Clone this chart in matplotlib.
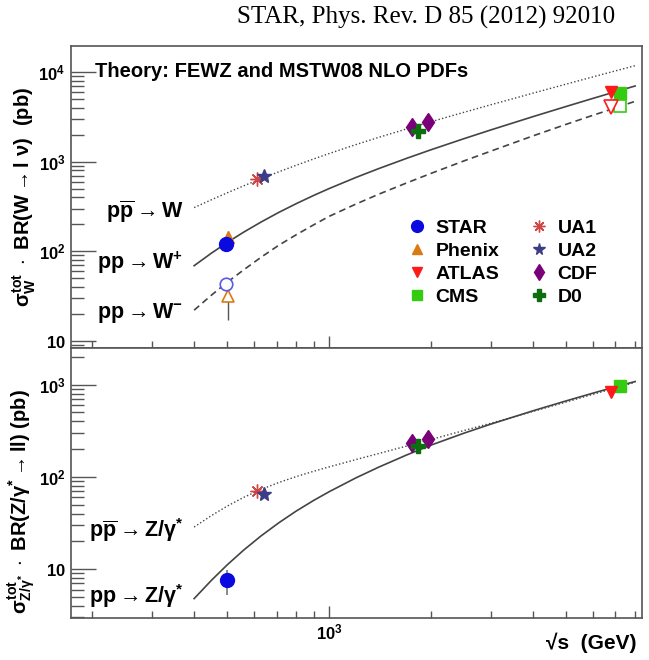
import numpy as np
import matplotlib
matplotlib.use("Agg")
import matplotlib.pyplot as plt
from matplotlib.ticker import FixedLocator, NullFormatter, FixedFormatter

plt.rcParams['font.family'] = ['Liberation Sans', 'DejaVu Sans']
plt.rcParams['mathtext.fontset'] = 'custom'
plt.rcParams['mathtext.rm'] = 'Liberation Sans:bold'
plt.rcParams['mathtext.bf'] = 'Liberation Sans:bold'
plt.rcParams['mathtext.it'] = 'Liberation Sans:bold'
plt.rcParams['mathtext.sf'] = 'Liberation Sans:bold'

# Theory curves, sqrt(s) in GeV, cross sections in pb
sqrt_s_theory = [400, 450, 500, 560, 630, 710, 800, 900, 1000, 1200, 1400, 1700,
                 2000, 2500, 3000, 4000, 5000, 6000, 7000, 8000]
w_ppbar = [307.6, 376.6, 448.6, 537.9, 644.7, 769.6, 911.9, 1071, 1231, 1550, 1865, 2330,
           2791, 3552, 4310, 5814, 7316, 8812, 10297, 11770]
w_plus = [69.2, 95.6, 125.1, 163.8, 212.2, 271.3, 340.2, 419.6, 500.9, 666.8, 836.1, 1095,
          1359, 1805, 2259, 3183, 4122, 5075, 6031, 6985]
w_minus = [22.1, 32.5, 45.0, 62.2, 85.9, 116.7, 153.1, 197.2, 245.4, 336.7, 433.1, 582.5,
           740.7, 1020, 1310, 1942, 2605, 3289, 3980, 4715]
z_ppbar = [28.6, 38.1, 48.1, 60.0, 73.2, 86.8, 100.8, 115.0, 128.4, 154.1, 179.2, 216.8,
           254.7, 318.4, 382.1, 513.8, 648.1, 785.1, 922.9, 1062]
z_pp = [4.79, 7.57, 11.07, 16.09, 22.9, 31.7, 42.6, 55.5, 69.0, 97.6, 127.4, 173.9,
        221.4, 298.0, 373.6, 521.7, 666.8, 809.1, 948.2, 1083]

# Measurements: W panel
star_w_x = [495]
star_wp = [120]
star_wm = [43.3]
phenix_w_x = [505]
phenix_wp = [144]
phenix_wp_err = [25]
phenix_wm = [31.4]
phenix_wm_err_lo = [14.4]
phenix_wm_err_hi = [10]
atlas_w_x = [6780]
atlas_wp = [6025]
atlas_wm = [4036]
cms_w_x = [7210]
cms_wp = [5780]
cms_wm = [4168]
ua1_x = [615]
ua1_w = [637]
ua2_x = [645]
ua2_w = [689]
cdf_x = [1760, 1960]
cdf_w = [2430, 2760]
d0_x = [1830]
d0_w = [2190]

# Measurements: Z panel
star_z_x = [500]
star_z = [7.6]
star_z_err_lo = [2.3]
star_z_err_hi = [2.3]
ua1_z = [71]
ua2_z = [65.5]
cdf_z = [231, 256]
d0_z = [218]
atlas_z_x = [6780]
atlas_z = [836]
cms_z_x = [7210]
cms_z = [970]

# curve labels
label_x = 372
w_labels = [r'$\mathrm{p\overline{p}\rightarrow W}$', r'$\mathrm{pp\rightarrow W^{+}}$',
            r'$\mathrm{pp\rightarrow W^{-}}$']
w_label_y = [273, 75, 20.3]
z_labels = [r'$\mathrm{p\overline{p}\rightarrow Z/\gamma^{*}}$', r'$\mathrm{pp\rightarrow Z/\gamma^{*}}$']
z_label_y = [26.7, 5.05]

c_star = '#0a0ae0'
c_phenix = '#d97a14'
c_atlas = '#ff1a1a'
c_cms = '#33cc11'
c_ua1 = '#d04545'
c_ua2 = '#3d3d85'
c_cdf = '#7a007a'
c_d0 = '#0d6e0d'
c_th = '#444444'
frame = '#555555'

fig = plt.figure(figsize=(6.49, 6.60), dpi=100)
ax1 = fig.add_axes([0.1094, 0.4727, 0.8798, 0.4576])
ax2 = fig.add_axes([0.1094, 0.0636, 0.8798, 0.4091])

xlo, xhi = 173.3, 8381

for ax in (ax1, ax2):
    ax.set_xscale('log')
    ax.set_yscale('log')
    ax.set_xlim(xlo, xhi)
    for s in ax.spines.values():
        s.set_color(frame)
        s.set_linewidth(1.2)
    ax.xaxis.set_major_locator(FixedLocator([1000]))
    ax.xaxis.set_minor_locator(FixedLocator([200, 300, 400, 500, 600, 700, 800, 900,
                                             2000, 3000, 4000, 5000, 6000, 7000, 8000]))
    ax.xaxis.set_minor_formatter(NullFormatter())
    ax.tick_params(axis='x', which='major', direction='in', length=9, width=1, color=frame,
                   top=False, pad=3)
    ax.tick_params(axis='x', which='minor', direction='in', length=5, width=1, color=frame, top=False)
    ax.tick_params(axis='y', which='major', direction='in', length=18, width=1, color=frame,
                   right=False, labelsize=12, pad=4)
    ax.tick_params(axis='y', which='minor', direction='in', length=9, width=1, color=frame, right=False)

ax1.set_ylim(8.36, 19500)
ax2.set_ylim(2.95, 2500)
ax1.yaxis.set_major_locator(FixedLocator([10, 100, 1000, 10000]))
ax1.yaxis.set_major_formatter(FixedFormatter([r'$\mathbf{10}$', r'$\mathbf{10^{2}}$',
                                              r'$\mathbf{10^{3}}$', r'$\mathbf{10^{4}}$']))
ax2.yaxis.set_major_locator(FixedLocator([10, 100, 1000]))
ax2.yaxis.set_major_formatter(FixedFormatter([r'$\mathbf{10}$', r'$\mathbf{10^{2}}$',
                                              r'$\mathbf{10^{3}}$']))
minors = [k * 10 ** e for e in range(0, 5) for k in range(2, 10)]
ax1.yaxis.set_minor_locator(FixedLocator(minors))
ax2.yaxis.set_minor_locator(FixedLocator(minors))
ax1.yaxis.set_minor_formatter(NullFormatter())
ax2.yaxis.set_minor_formatter(NullFormatter())
ax1.set_xticklabels([])
ax2.xaxis.set_major_formatter(FixedFormatter([r'$\mathbf{10^{3}}$']))
ax2.tick_params(axis='x', labelsize=12)

# theory curves
dot = (0, (1, 1.6))
dash = (0, (4, 2.6))
ax1.plot(sqrt_s_theory, w_ppbar, ls=dot, color=c_th, lw=1.0)
ax1.plot(sqrt_s_theory, w_plus, ls='-', color=c_th, lw=1.2)
ax1.plot(sqrt_s_theory, w_minus, ls=dash, color=c_th, lw=1.2)
ax2.plot(sqrt_s_theory, z_ppbar, ls=dot, color=c_th, lw=1.0)
ax2.plot(sqrt_s_theory, z_pp, ls='-', color=c_th, lw=1.2)

ms = 9
# W data
ax1.errorbar(phenix_w_x, phenix_wm, yerr=[phenix_wm_err_lo, phenix_wm_err_hi], fmt='^', ms=ms,
             mfc='white', mec=c_phenix, mew=1.2, ecolor='#555555', elinewidth=1, zorder=3)
ax1.plot(star_w_x, star_wm, 'o', ms=ms, mfc='white', mec='#5a5ae6', mew=1.2, zorder=4)
ax1.errorbar(phenix_w_x, phenix_wp, yerr=phenix_wp_err, fmt='none',
             ecolor='#555555', elinewidth=1, zorder=2)
ax1.plot(phenix_w_x, phenix_wp, '^', ms=ms, color=c_phenix, label='Phenix', zorder=3)
ax1.plot(star_w_x, star_wp, 'o', ms=ms + 1, color=c_star, label='STAR', zorder=4)
ax1.plot(atlas_w_x, atlas_wp, 'v', ms=ms, color=c_atlas, label='ATLAS', zorder=4)
ax1.plot(atlas_w_x, atlas_wm, 'v', ms=ms + 1, mfc='white', mec=c_atlas, mew=1.2, zorder=4)
ax1.plot(cms_w_x, cms_wp, 's', ms=ms, color=c_cms, label='CMS', zorder=3)
ax1.plot(cms_w_x, cms_wm, 's', ms=ms, mfc='white', mec=c_cms, mew=1.2, zorder=3)
ax1.plot(ua1_x, ua1_w, marker=(8, 2, 0), ls='none', ms=ms + 1, color=c_ua1, mew=1.0,
         label='UA1', zorder=4)
ax1.plot(ua2_x, ua2_w, '*', ms=ms + 1, color=c_ua2, label='UA2', zorder=4)
ax1.plot(cdf_x, cdf_w, 'd', ms=ms + 0.5, color=c_cdf, label='CDF', zorder=4)
ax1.plot(d0_x, d0_w, 'P', ms=ms + 1, color=c_d0, label='D0', zorder=5)

# Z data
ax2.errorbar(star_z_x, star_z, yerr=[star_z_err_lo, star_z_err_hi], fmt='o', ms=ms + 1,
             color=c_star, ecolor='#777777', elinewidth=1.2, zorder=4)
ax2.plot(ua1_x, ua1_z, marker=(8, 2, 0), ls='none', ms=ms + 1, color=c_ua1, mew=1.0, zorder=4)
ax2.plot(ua2_x, ua2_z, '*', ms=ms + 1, color=c_ua2, zorder=4)
ax2.plot(cdf_x, cdf_z, 'd', ms=ms + 0.5, color=c_cdf, zorder=4)
ax2.plot(d0_x, d0_z, 'P', ms=ms + 1, color=c_d0, zorder=5)
ax2.plot(atlas_z_x, atlas_z, 'v', ms=ms, color=c_atlas, zorder=4)
ax2.plot(cms_z_x, cms_z, 's', ms=ms, color=c_cms, zorder=3)

# curve labels
for lab, y in zip(w_labels, w_label_y):
    ax1.text(label_x, y, lab, ha='right', va='center', fontsize=15.5)
for lab, y in zip(z_labels, z_label_y):
    ax2.text(label_x, y, lab, ha='right', va='center', fontsize=15.5)

ax1.text(0.042, 0.914, 'Theory: FEWZ and MSTW08 NLO PDFs', transform=ax1.transAxes,
         fontsize=14.5, fontweight='bold', va='center', ha='left')

# legend
h, l = ax1.get_legend_handles_labels()
order = ['STAR', 'Phenix', 'ATLAS', 'CMS', 'UA1', 'UA2', 'CDF', 'D0']
hd = dict(zip(l, h))
leg = ax1.legend([hd[k] for k in order], order, ncol=2, frameon=False, loc='upper left',
                 bbox_to_anchor=(0.56, 0.485), prop={'weight': 'bold', 'size': 14},
                 handlelength=0.9, handletextpad=0.5, columnspacing=1.6, labelspacing=0.28,
                 markerscale=0.85)

ax1.set_ylabel(r'$\sigma^{\mathrm{tot}}_{\mathrm{W}}\ \cdot\ \mathrm{BR(W\rightarrow l\ \nu)\ \ (pb)}$',
               fontsize=14.5)
ax2.set_ylabel(r'$\sigma^{\mathrm{tot}}_{\mathrm{Z/\gamma^{*}}}\ \cdot\ \mathrm{BR(Z/\gamma^{*}\rightarrow ll)\ (pb)}$',
               fontsize=14.5)
ax1.yaxis.set_label_coords(-0.057, 0.5)
ax2.yaxis.set_label_coords(-0.057, 0.43)
ax2.set_xlabel('\u221as  (GeV)', fontsize=15, fontweight='bold', loc='right')
ax2.xaxis.set_label_coords(0.991, -0.055)

fig.text(0.656, 0.973, 'STAR, Phys. Rev. D 85 (2012) 92010', family='Liberation Serif',
         fontsize=18, ha='center', va='center')

fig.savefig('out.png', dpi=100)
